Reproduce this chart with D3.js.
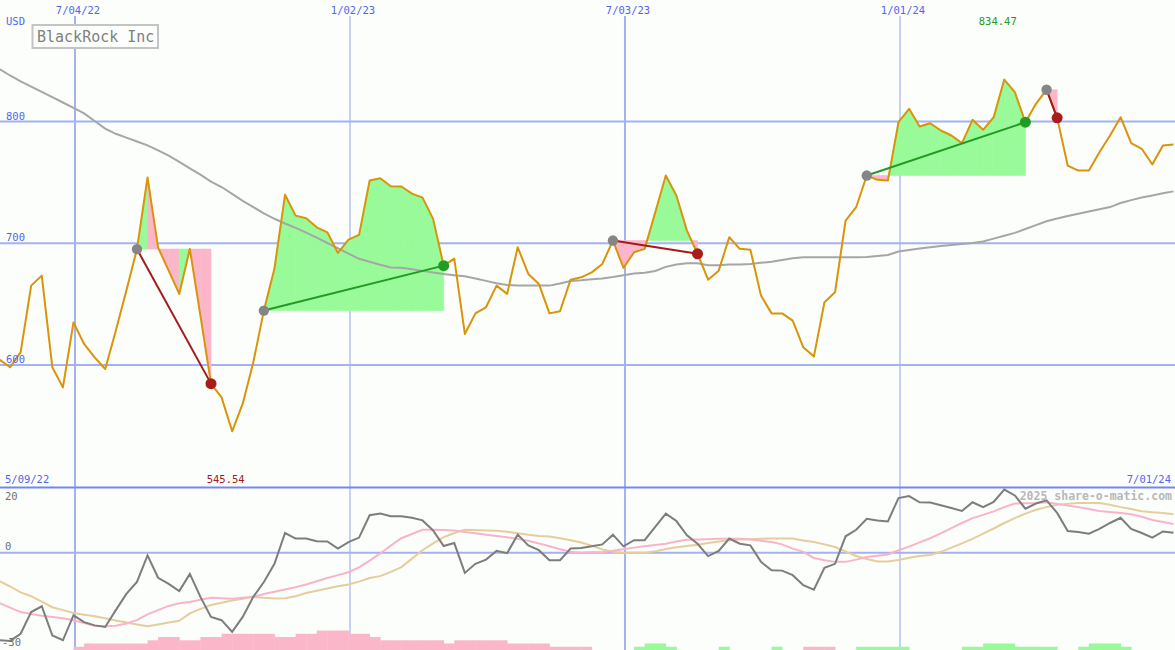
<!DOCTYPE html>
<html><head><meta charset="utf-8">
<script src="https://cdn.jsdelivr.net/npm/d3@7"></script>
<style>body{margin:0;background:#fbfefb}svg{display:block}</style>
</head><body><svg id="c" width="1175" height="650"></svg>
<script>
// ---------- data (weekly closes, first week 5/09/22, plotted at week end of the previous day) ----------
const startDate = "2022-05-08";
const price = [611.0,604.4,598.1,610.4,665.2,673.4,598.1,581.6,635.0,617.3,606.3,596.7,628.2,661.1,695.2,754.0,696.4,677.5,658.4,695.4,640.6,584.7,573.4,545.54,568.2,602.2,644.7,679.2,739.8,722.7,720.5,713.1,709.0,692.1,703.0,706.9,751.5,753.4,746.8,746.6,740.8,737.5,720.0,681.6,687.4,625.5,642.4,647.4,665.2,658.4,696.7,674.8,666.6,642.4,644.1,670.1,672.0,676.1,683.0,702.2,679.8,692.6,695.4,725.2,755.6,739.2,710.4,691.3,670.1,677.5,704.9,695.4,694.6,657.0,642.4,642.4,636.4,614.5,606.9,651.5,659.7,718.6,729.6,755.6,752.1,751.5,799.4,810.4,795.9,798.6,792.6,788.5,782.2,801.4,793.2,803.5,834.47,824.1,799.4,814.5,826.1,803.0,763.8,759.7,759.7,774.8,788.5,803.5,782.2,777.6,764.7,780.3,781.1];
const movingAvg = [848.5,843.1,837.8,833.0,828.7,824.3,820.0,815.6,811.1,806.6,800.4,794.2,789.9,786.8,783.6,780.4,776.3,772.0,766.8,761.5,756.3,750.7,746.2,740.6,734.8,729.7,724.6,720.1,716.2,712.6,708.8,704.6,700.2,695.9,691.5,687.2,684.8,682.3,680.1,679.8,678.7,677.3,675.9,674.7,673.8,672.9,671.1,669.1,667.1,665.7,665.2,665.2,665.2,665.2,666.9,669.0,669.6,670.4,671.0,672.2,673.8,675.2,675.7,677.2,680.6,682.6,683.5,683.5,681.9,681.9,682.5,682.6,683.0,683.9,684.9,686.2,687.6,688.5,688.5,688.5,688.5,688.5,688.5,688.8,689.5,690.3,693.2,694.5,695.6,696.8,697.7,698.5,699.3,700.2,701.4,703.8,706.1,708.5,711.7,714.9,718.1,720.3,722.4,724.2,726.0,727.9,729.7,733.1,735.4,737.5,739.3,741.0,742.6];
const oscillator = [-26.9,-27.0,-27.2,-25.0,-18.3,-16.5,-25.5,-27.0,-19.3,-21.4,-22.4,-22.9,-17.7,-12.7,-9.0,-0.8,-7.7,-9.6,-11.8,-6.5,-13.6,-19.8,-20.8,-24.4,-19.8,-13.6,-9.0,-3.4,6.1,4.4,4.4,3.6,3.5,1.3,3.3,4.7,11.6,12.1,11.3,11.3,10.8,10.0,6.9,2.1,3.0,-6.2,-3.4,-2.1,0.6,-0.1,5.6,2.3,0.8,-2.3,-2.3,1.3,1.5,2.0,2.6,5.6,2.0,3.9,3.9,8.0,12.1,9.8,5.4,2.8,-1.0,0.6,4.4,2.8,2.3,-2.8,-5.4,-5.5,-6.9,-10.0,-11.4,-4.6,-3.4,5.1,7.1,10.5,10.0,9.7,16.9,17.5,15.6,15.5,14.7,13.8,12.9,15.6,14.1,15.7,19.5,17.7,13.6,15.2,16.2,12.3,6.7,6.4,5.9,7.4,9.2,10.8,7.4,6.1,4.7,6.6,6.2];
const oscFast = [-13.9,-15.5,-16.9,-18.3,-18.9,-19.4,-19.8,-20.2,-20.8,-21.7,-22.5,-22.7,-22.5,-21.8,-20.8,-19.0,-17.7,-16.4,-15.6,-15.2,-14.5,-13.9,-14.0,-14.2,-13.9,-13.6,-12.7,-12.0,-11.3,-10.6,-9.8,-8.8,-7.8,-6.9,-6.0,-4.5,-2.4,-0.2,2.2,4.5,5.8,7.1,7.1,7.0,6.9,6.4,6.0,5.6,5.2,4.8,4.3,3.7,2.9,2.0,1.1,0.3,0.0,0.2,0.2,0.6,1.1,1.6,2.0,2.4,2.8,3.5,4.0,4.1,4.2,4.3,4.3,4.3,4.1,3.7,3.3,2.6,1.3,0.3,-1.6,-2.3,-2.8,-2.8,-2.1,-1.3,-0.9,-0.5,0.8,1.9,3.2,4.5,6.0,7.6,9.2,10.7,11.7,12.8,14.1,15.2,15.3,15.4,15.6,15.1,14.6,14.1,13.5,12.9,12.6,12.3,11.9,11.1,10.1,9.5,8.9];
const oscSlow = [-6.9,-8.7,-10.4,-12.2,-13.4,-15.1,-16.8,-17.7,-18.6,-19.1,-19.6,-20.2,-20.9,-21.5,-22.1,-22.7,-22.1,-21.5,-21.0,-18.7,-17.3,-16.1,-15.4,-14.7,-14.2,-13.6,-13.9,-14.1,-14.0,-13.4,-12.4,-11.7,-11.0,-10.3,-9.8,-8.9,-7.8,-7.2,-5.9,-4.4,-1.8,0.8,2.9,4.8,6.1,7.1,7.0,6.9,6.8,6.5,6.0,5.6,5.2,5.0,4.5,3.9,3.2,2.2,1.0,0.3,0.0,0.0,0.0,0.5,1.2,1.7,2.1,2.5,3.0,3.5,3.9,4.1,4.2,4.3,4.4,4.4,4.4,3.8,3.3,2.6,1.8,0.4,-1.0,-1.9,-2.7,-2.7,-2.2,-1.5,-1.0,-0.7,0.3,1.6,2.9,4.3,5.9,7.5,9.2,10.7,12.1,13.3,14.1,14.8,15.1,15.4,15.4,15.4,14.8,14.1,13.5,12.8,12.5,12.3,11.9];
const histogram = [0,0,0,0,0,0,0,0,-1,-2,-2,-2,-2,-2,-2,-3,-4,-4,-3,-3,-4,-4,-5,-5,-5,-5,-5,-4,-4,-5,-5,-6,-6,-6,-5,-5,-4,-3,-3,-3,-3,-3,-3,-2,-3,-3,-3,-3,-3,-2,-2,-2,-2,-1,-1,-1,-1,0,0,0,0,1,2,2,1,0,0,0,0,1,0,0,0,0,1,0,0,-1,-1,-1,0,0,1,1,1,1,1,0,0,0,0,0,1,1,2,2,2,1,1,1,1,0,0,1,2,2,2,1,0,0,0,0,0];
// trades: [buy week index, sell week index, fill colouring]
const trades = [[14,21,"direction"],[26,43,"level"],[59,67,"level"],[83,98,"level"],[100,101,"level"]];
const priceTicks = [600,700,800];
const oscTicks = [20,0,-30];
const dateTicks = ["2022-07-04","2023-01-02","2023-07-03","2024-01-01"];
const dateTickLabels = ["7/04/22","1/02/23","7/03/23","1/01/24"];
const rangeLabels = ["5/09/22","7/01/24"];
const title = "BlackRock Inc";
const currency = "USD";
const watermark = "2025 share-o-matic.com";

// ---------- drawing ----------
const W = 1175, H = 650;
const parse = d3.timeParse("%Y-%m-%d");
const t0 = parse(startDate);
const dates = price.map((_, i) => d3.timeDay.offset(t0, 7 * i));
const x = d3.scaleTime().domain([parse("2022-07-04"), parse("2024-07-01")]).range([75, 1175]);
const y = d3.scaleLinear().domain([600, 800]).range([365, 121.5]);
const yo = d3.scaleLinear().domain([-30, 20]).range([650, 488]);

const GREEN_FILL = "#98fa98", PINK_FILL = "#fbb6ca";
const GRID = "#a4b2f2", BLUE_TXT = "#5565ee", MONO = "'DejaVu Sans Mono', 'Liberation Mono', monospace";

const svg = d3.select("#c");
svg.append("rect").attr("width", W).attr("height", H).attr("fill", "#fbfefb");
const defs = svg.append("defs");
defs.append("clipPath").attr("id", "ctop").append("rect").attr("x", 0).attr("y", 0).attr("width", W).attr("height", 486);
defs.append("clipPath").attr("id", "cbot").append("rect").attr("x", 0).attr("y", 488).attr("width", W).attr("height", 162);

// gridlines
const grid = svg.append("g");
priceTicks.forEach(v => grid.append("line").attr("x1", 0).attr("x2", W).attr("y1", y(v)).attr("y2", y(v))
  .attr("stroke", GRID).attr("stroke-width", 2));
grid.append("line").attr("x1", 0).attr("x2", W).attr("y1", yo(0)).attr("y2", yo(0)).attr("stroke", GRID).attr("stroke-width", 2);
dateTicks.forEach((d, i) => {
  const xx = Math.round(x(parse(d)));
  grid.append("line").attr("x1", xx).attr("x2", xx).attr("y1", 16).attr("y2", H)
    .attr("stroke", GRID).attr("stroke-width", i % 2 === 0 ? 2 : 1.2);
});
grid.append("line").attr("x1", 0).attr("x2", W).attr("y1", 487.5).attr("y2", 487.5).attr("stroke", "#7686ee").attr("stroke-width", 2.2);

// ---------- top panel ----------
const topG = svg.append("g").attr("clip-path", "url(#ctop)");
const fills = topG.append("g");
const poly = pts => "M" + pts.map(p => p[0].toFixed(2) + "," + p[1].toFixed(2)).join("L") + "Z";
trades.forEach(([a, b, mode]) => {
  const base = price[a], yb = y(base);
  for (let j = a; j < b; j++) {
    const p0 = price[j], p1 = price[j + 1];
    const x0 = x(dates[j]), x1 = x(dates[j + 1]);
    const pieces = [];
    if (mode === "direction") {
      pieces.push([[[x0, yb], [x0, y(p0)], [x1, y(p1)], [x1, yb]], p1 > p0]);
    } else if ((p0 - base) * (p1 - base) < 0) {
      const xc = x0 + (base - p0) / (p1 - p0) * (x1 - x0);
      pieces.push([[[x0, yb], [x0, y(p0)], [xc, yb]], p0 > base]);
      pieces.push([[[xc, yb], [x1, y(p1)], [x1, yb]], p1 > base]);
    } else {
      pieces.push([[[x0, yb], [x0, y(p0)], [x1, y(p1)], [x1, yb]], (p0 + p1) / 2 > base]);
    }
    pieces.forEach(([pts, up]) => fills.append("path").attr("d", poly(pts))
      .attr("fill", up ? GREEN_FILL : PINK_FILL).attr("stroke", up ? GREEN_FILL : PINK_FILL).attr("stroke-width", 0.6));
  }
});

const lineP = d3.line().x((d, i) => x(dates[i])).y(d => y(d));
topG.append("path").attr("d", lineP(movingAvg)).attr("fill", "none").attr("stroke", "#a6a6a6").attr("stroke-width", 2);
topG.append("path").attr("d", lineP(price)).attr("fill", "none").attr("stroke", "#d9940a").attr("stroke-width", 2).attr("stroke-linejoin", "round");

trades.forEach(([a, b]) => {
  const win = price[b] > price[a];
  topG.append("line").attr("x1", x(dates[a])).attr("y1", y(price[a])).attr("x2", x(dates[b])).attr("y2", y(price[b]))
    .attr("stroke", win ? "#229b22" : "#a31a1a").attr("stroke-width", 2);
});
trades.forEach(([a, b]) => {
  const win = price[b] > price[a];
  topG.append("circle").attr("cx", x(dates[a])).attr("cy", y(price[a])).attr("r", 5.2).attr("fill", "#858585");
  topG.append("circle").attr("cx", x(dates[b])).attr("cy", y(price[b])).attr("r", 5.5).attr("fill", win ? "#229b22" : "#a81c1c");
});

// texts
const txt = (t, xx, yy, fill, size, anchor) => svg.append("text").text(t).attr("x", xx).attr("y", yy)
  .attr("fill", fill).attr("font-family", MONO).attr("font-size", size).attr("text-anchor", anchor || "start");
dateTicks.forEach((d, i) => txt(dateTickLabels[i], x(parse(d)) + 3, 13.5, BLUE_TXT, "10.5px", "middle"));
txt(currency, 6, 25, BLUE_TXT, "10.5px");
priceTicks.forEach(v => txt(String(v), 6, y(v) - 2, BLUE_TXT, "10.5px"));
svg.append("rect").attr("x", 32.5).attr("y", 25).attr("width", 125.5).attr("height", 23)
  .attr("fill", "#fbfefb").attr("stroke", "#c4c4c4").attr("stroke-width", 2);
txt(title, 37, 41.5, "#808080", "15px");

const iMax = d3.maxIndex(price), iMin = d3.minIndex(price);
txt(d3.format(".2f")(price[iMax]), x(dates[iMax]) - 6.5, 25, "#229b22", "10.5px", "middle");
txt(d3.format(".2f")(price[iMin]), x(dates[iMin]) - 6.5, 483, "#a31a1a", "10.5px", "middle");
txt(rangeLabels[0], 5, 483, BLUE_TXT, "10.5px");
txt(rangeLabels[1], 1171, 483, BLUE_TXT, "10.5px", "end");

// ---------- bottom panel ----------
const botG = svg.append("g").attr("clip-path", "url(#cbot)");
histogram.forEach((v, i) => {
  if (!v || i + 1 >= dates.length) return;
  const x0 = x(dates[i]), x1 = x(dates[i + 1]);
  botG.append("rect").attr("x", x0).attr("width", x1 - x0 + 0.4)
    .attr("y", yo(-30 + Math.abs(v))).attr("height", yo(-30) - yo(-30 + Math.abs(v)))
    .attr("fill", v > 0 ? GREEN_FILL : PINK_FILL);
});
const lineO = d3.line().x((d, i) => x(dates[i])).y(d => yo(d));
botG.append("path").attr("d", lineO(oscSlow)).attr("fill", "none").attr("stroke", "#e6cd9c").attr("stroke-width", 2);
botG.append("path").attr("d", lineO(oscFast)).attr("fill", "none").attr("stroke", "#f9b3cb").attr("stroke-width", 2);
botG.append("path").attr("d", lineO(oscillator)).attr("fill", "none").attr("stroke", "#7d7d7d").attr("stroke-width", 2);

txt(String(oscTicks[0]), 5, yo(oscTicks[0]) + 12, "#707070", "10.5px");
txt(String(oscTicks[1]), 5, yo(oscTicks[1]) - 3, "#707070", "10.5px");
txt(String(oscTicks[2]), 2, yo(oscTicks[2]) - 4, "#707070", "10.5px");
txt(watermark, 1172, 500, "#b8b8b8", "11.5px", "end").attr("font-weight", "bold");
</script></body></html>
